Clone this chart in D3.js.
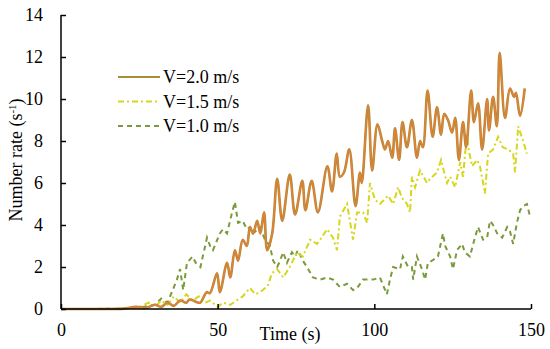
<!DOCTYPE html>
<html>
<head>
<meta charset="utf-8">
<script src="https://cdn.jsdelivr.net/npm/d3@7"></script>
<style>
  body { margin: 0; background: #fff; }
  svg text { font-family: "Liberation Serif", "DejaVu Serif", serif !important; }
</style>
</head>
<body>
<div id="chart"></div>
<script>
// V=2.0 m/s
const t20 = [0, 5, 10, 15, 20, 24, 27, 30, 32, 34, 36, 38, 40, 41, 43, 44.4, 46.5, 47.5, 49.8, 50.7,
  53, 54, 55.5, 56.5, 58, 59.3, 60.3, 61.3, 62.6, 63.6, 64.8, 65.8, 67.4, 69, 70.6, 73, 74.7, 77, 78, 80,
  82, 85, 86.5, 88, 89, 90.3, 92, 94, 95.4, 96, 98, 99.3, 101, 102.5, 103.4, 104.4, 105.7, 106.6, 107.9, 109,
  110.4, 112, 113.6, 114.6, 115.5, 117, 118.6, 120, 121.3, 122.3, 123.5, 124.8, 125.8, 127, 128.3, 129.3, 130.9, 131.8, 133.1, 134.4,
  136, 136.6, 137.9, 139.1, 140, 141.7, 143.3, 144.6, 145.2, 146.5, 148];
const v20 = [0, 0, 0, 0, 0.02, 0.1, 0.05, 0.2, 0.1, 0.3, 0.15, 0.4, 0.3, 0.45, 0.35, 0.3, 0.8, 0.75, 1.7, 0.8,
  2.2, 1.5, 2.8, 2.3, 3.3, 3.0, 3.9, 3.6, 4.2, 3.6, 4.6, 2.8, 3.6, 6.2, 4.2, 6.4, 4.5, 6.1, 4.7, 6.1,
  4.6, 6.8, 5.6, 7.4, 6.3, 6.5, 7.6, 4.9, 6.5, 6.0, 9.7, 6.6, 8.8, 8.0, 7.6, 8.0, 7.2, 8.6, 7.1, 8.9,
  7.7, 9.0, 7.2, 8.0, 7.7, 10.4, 8.2, 9.6, 8.3, 9.3, 9.0, 8.4, 9.1, 7.1, 8.9, 7.7, 10.4, 8.9, 9.8, 7.6,
  10.0, 8.5, 10.1, 8.7, 12.2, 9.1, 10.5, 10.1, 10.3, 9.2, 10.5];

// V=1.5 m/s
const t15 = [0, 10, 20, 22, 25, 28, 30, 32, 34, 36, 38, 40, 42, 44, 46, 47.6, 50, 51.7, 54, 56, 58,
  60.3, 62, 63.5, 66, 67.3, 69, 70.9, 73, 75.3, 77.2, 79.5, 81.7, 82.7, 84.9, 86.8, 88.1, 89, 91.3, 92.2,
  93.2, 94.5, 96.4, 97.7, 98.6, 100.2, 101.8, 104.4, 106, 107.6, 108.8, 110.4, 111.4, 112, 113, 114.6, 116.8, 117.8, 120, 121.3,
  122.3, 123.2, 124.2, 125.8, 127.4, 128.3, 129.6, 130.2, 131.2, 132.8, 133.7, 134.7, 135.3, 136.3, 137.9, 139.5, 141, 142.7, 144.3, 144.9,
  145.9, 147.5, 148.7];
const v15 = [0, 0, 0.02, 0.05, 0.1, 0.3, 0.1, 0.4, 0.2, 0.6, 0.3, 0.7, 0.4, 0.6, 0.3, 0.4, 0.1, 0.3, 0.2, 0.4, 0.6,
  1.0, 0.7, 0.8, 1.1, 1.7, 1.9, 1.5, 2.0, 2.7, 2.5, 3.3, 3.1, 3.3, 3.8, 3.4, 2.8, 4.4, 5.0, 4.2,
  3.3, 4.6, 4.6, 4.1, 6.0, 5.2, 5.0, 5.4, 5.0, 5.8, 5.3, 5.0, 4.6, 6.3, 5.8, 6.6, 6.0, 6.2, 6.5, 7.1,
  6.5, 6.0, 6.3, 5.8, 7.0, 6.3, 8.4, 7.5, 6.8, 7.1, 6.8, 6.0, 5.5, 7.4, 7.6, 8.2, 7.7, 7.6, 7.4, 6.5,
  8.7, 8.0, 7.4];

// V=1.0 m/s
const t10 = [0, 10, 20, 26, 30, 32, 34, 37, 38, 39, 40.2, 42, 43, 44.5, 46.6, 47.6, 48.5, 50.7, 51.7, 53,
  54.6, 55.5, 56.5, 58, 59.3, 60.3, 61.3, 63.5, 65.1, 66.7, 67.7, 69, 69.9, 70.9, 72.1, 73.7, 74.7, 75.6, 77.2, 78.5,
  80.4, 82.7, 84.9, 86.8, 89, 91.3, 93.2, 94.5, 96.4, 99.6, 101.8, 104, 105, 106, 108.2, 109.1, 110.8, 112, 112.4, 113.6,
  115.2, 116.2, 117.1, 118.4, 120.3, 121.9, 122.6, 124.2, 125.1, 126.4, 128, 128.9, 130.5, 132.1, 133.1, 134.7, 136, 136.9, 137.9, 139.2,
  140.8, 142.4, 143.3, 144.3, 145.5, 146.5, 147.5, 148.7, 149.7];
const v10 = [0, 0, 0.02, 0.1, 0.2, 0.5, 0.3, 1.4, 1.9, 0.9, 2.2, 2.5, 2.2, 2.0, 3.4, 3.0, 2.8, 3.6, 3.8, 3.6,
  4.6, 5.1, 4.1, 4.2, 3.8, 3.9, 3.6, 3.9, 3.3, 3.0, 2.3, 2.0, 2.3, 2.7, 2.2, 2.7, 2.5, 2.8, 2.3, 2.0,
  1.5, 1.4, 1.5, 1.4, 1.05, 1.2, 0.9, 1.0, 1.4, 1.4, 1.5, 0.7, 1.4, 2.0, 1.9, 2.5, 2.0, 2.0, 1.4, 2.5,
  1.9, 1.4, 2.2, 2.3, 2.5, 3.6, 3.0, 2.5, 1.9, 2.8, 3.1, 2.7, 2.5, 3.4, 3.9, 3.3, 3.4, 4.2, 4.0, 3.6,
  3.4, 3.9, 3.7, 3.1, 4.1, 4.7, 4.9, 5.0, 4.4];

const xTicks = [0, 50, 100, 150];
const yTicks = [0, 2, 4, 6, 8, 10, 12, 14];
const legendLabels = ["V=2.0 m/s", "V=1.5 m/s", "V=1.0 m/s"];

const w = 550, h = 349;
const padLeft = 61, padRight = 531, padTop = 15, padBottom = 309;
const serif = "'Liberation Serif', 'DejaVu Serif', serif";

const svg = d3.select("#chart").append("svg").attr("width", w).attr("height", h)
  .attr("font-family", serif);

const x = d3.scaleLinear().domain([0, 150]).range([padLeft, padRight]);
const y = d3.scaleLinear().domain([0, 14]).range([padBottom, padTop]);

function pts(ts, vs) { return ts.map((t, i) => ({ t: t, v: vs[i] })); }

const smooth = d3.line().x(d => x(d.t)).y(d => y(d.v)).curve(d3.curveCatmullRom);
const plain = d3.line().x(d => x(d.t)).y(d => y(d.v));

// V=1.0 dashed green
svg.append("path").datum(pts(t10, v10))
  .attr("d", plain).attr("fill", "none")
  .attr("stroke", "#7b9a3c").attr("stroke-width", 2)
  .attr("stroke-dasharray", "5,4");

// V=1.5 dash-dot yellow
svg.append("path").datum(pts(t15, v15))
  .attr("d", plain).attr("fill", "none")
  .attr("stroke", "#d6d61e").attr("stroke-width", 2)
  .attr("stroke-dasharray", "6,3,2,3");

// V=2.0 solid, olive with orange core
const d20 = pts(t20, v20);
svg.append("path").datum(d20)
  .attr("d", smooth).attr("fill", "none")
  .attr("stroke", "#ad8c38").attr("stroke-width", 2.6);
svg.append("path").datum(d20)
  .attr("d", smooth).attr("fill", "none")
  .attr("stroke", "#ec7f38").attr("stroke-width", 1.5).attr("opacity", 0.85);

// axes
const xAxis = d3.axisBottom(x).tickValues(xTicks).tickSize(-5).tickPadding(14);
const yAxis = d3.axisLeft(y).tickValues(yTicks).tickSize(-5).tickPadding(18);

const gx = svg.append("g").attr("transform", "translate(0," + padBottom + ")").call(xAxis);
const gy = svg.append("g").attr("transform", "translate(" + padLeft + ",0)").call(yAxis);

[gx, gy].forEach(g => {
  g.attr("font-family", serif).attr("font-size", 18);
  g.select(".domain").attr("stroke", "#000").attr("stroke-width", 1.5);
  g.selectAll(".tick line").attr("stroke", "#000").attr("stroke-width", 1.5);
  g.selectAll(".tick text").attr("fill", "#000");
});
gx.select(".domain").attr("d", "M" + padLeft + ",0H" + padRight);
gy.select(".domain").attr("d", "M0," + padBottom + "V" + padTop);

// axis titles
svg.append("text")
  .attr("x", 290).attr("y", 340)
  .attr("text-anchor", "middle")
  .attr("font-size", 18)
  .text("Time (s)");

const yl = svg.append("text")
  .attr("transform", "translate(22,160) rotate(-90)")
  .attr("text-anchor", "middle")
  .attr("font-size", 18);
yl.append("tspan").text("Number rate (s");
yl.append("tspan").attr("dy", -6).attr("font-size", 11).text("-1");
yl.append("tspan").attr("dy", 6).text(")");

// legend
const legendY = [77, 101.5, 126];
const legendStyle = [
  { c: "#ad8c38", dash: null },
  { c: "#d6d61e", dash: "6,3,2,3" },
  { c: "#7b9a3c", dash: "5,4" }
];
legendLabels.forEach((lab, i) => {
  svg.append("line")
    .attr("x1", 118).attr("x2", 160)
    .attr("y1", legendY[i]).attr("y2", legendY[i])
    .attr("stroke", legendStyle[i].c).attr("stroke-width", 2.2)
    .attr("stroke-dasharray", legendStyle[i].dash);
  svg.append("text")
    .attr("x", 163).attr("y", legendY[i] + 6)
    .attr("font-size", 18)
    .text(lab);
});
</script>
</body>
</html>
